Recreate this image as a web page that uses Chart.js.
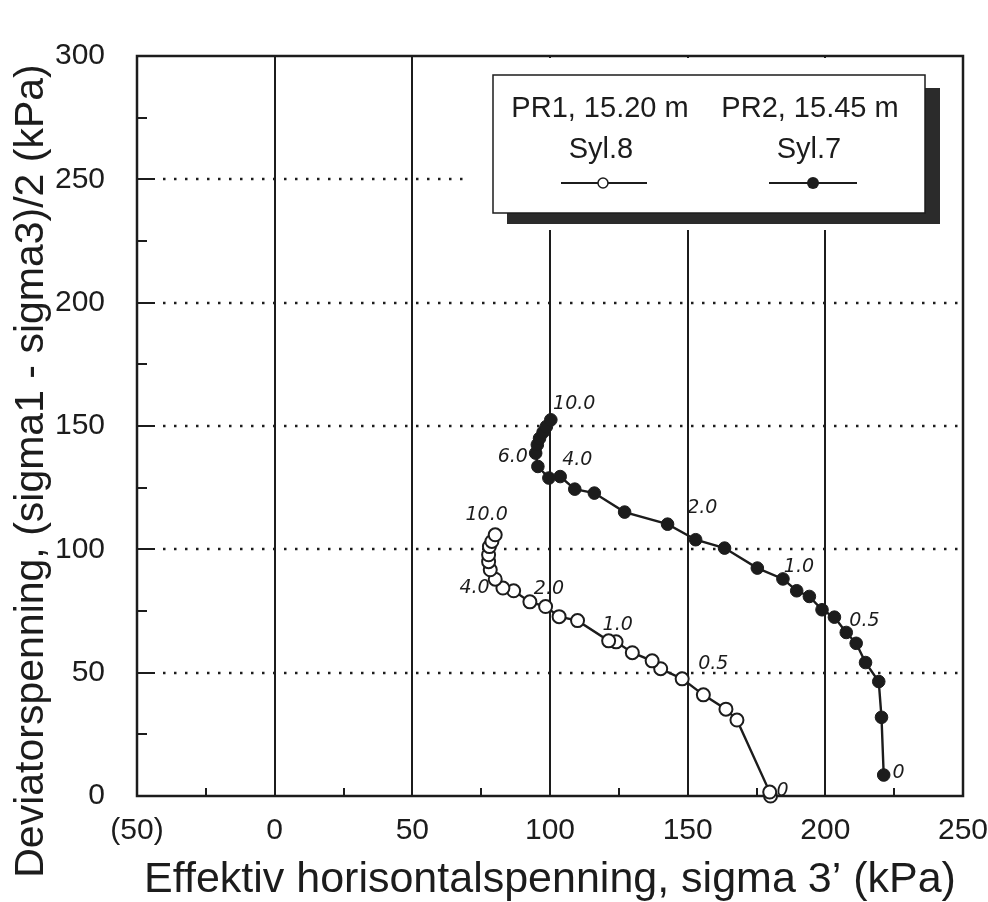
<!DOCTYPE html>
<html lang="no">
<head>
<meta charset="UTF-8">
<title>Spenningssti PR1 / PR2</title>
<script src="https://cdn.jsdelivr.net/npm/chart.js"></script>
<style>
  html, body { margin: 0; padding: 0; background: #fff; }
  #wrap { width: 988px; height: 902px; }
</style>
</head>
<body>
<div id="wrap"><canvas id="chart"></canvas></div>
<script>
// PR1, 15.20 m - Syl.8 (apne sirkler), fra start av forsoket
const syl8X = [180.1, 179.8, 167.9, 163.9, 155.7, 148.0, 140.2, 137.1, 129.9, 124.0, 121.3, 110.0,
               103.3, 98.4, 92.7, 86.8, 82.9, 80.1, 78.3, 77.7, 77.7, 78.0, 78.9, 80.1];
const syl8Y = [0.0, 1.6, 30.8, 35.2, 41.0, 47.5, 51.6, 54.8, 58.1, 62.5, 62.9, 71.1,
               72.7, 76.8, 78.7, 83.2, 84.3, 87.9, 91.7, 95.0, 97.8, 101.1, 103.2, 105.9];

// PR2, 15.45 m - Syl.7 (fylte sirkler)
const syl7X = [221.2, 220.4, 219.4, 214.6, 211.2, 207.6, 203.3, 198.8, 194.2, 189.6, 184.6, 175.3,
               163.4, 152.9, 142.7, 127.1, 116.1, 109.0, 103.7, 99.6, 95.6, 94.8, 95.4, 96.2,
               97.5, 98.7, 100.3];
const syl7Y = [8.5, 31.9, 46.4, 54.1, 61.9, 66.3, 72.5, 75.5, 80.9, 83.2, 88.0, 92.4,
               100.5, 103.9, 110.2, 115.1, 122.8, 124.4, 129.5, 128.9, 133.6, 139.0, 142.4, 145.0,
               147.5, 149.8, 152.5];

// akser
const xTicks = [-50, 0, 50, 100, 150, 200, 250];
const yTicks = [0, 50, 100, 150, 200, 250, 300];
const xMinor = [-25, 25, 75, 125, 175, 225];
const yMinor = [25, 75, 125, 175, 225, 275];
const yTitle = "Deviatorspenning, (sigma1 - sigma3)/2 (kPa)";
const xTitle = "Effektiv horisontalspenning, sigma 3\u2019 (kPa)";

// tøyning (%) skrevet langs kurvene
const syl8Notes = ["0", "0.5", "1.0", "2.0", "4.0", "10.0"];
const syl8NoteX = [184.5, 159.3, 124.6, 99.6, 72.6, 77.0];
const syl8NoteY = [2.0, 53.5, 69.3, 83.9, 84.3, 113.9];
const syl7Notes = ["0", "0.5", "1.0", "2.0", "4.0", "6.0", "10.0"];
const syl7NoteX = [226.6, 214.2, 190.4, 155.3, 109.9, 86.5, 108.8];
const syl7NoteY = [9.3, 70.9, 92.8, 116.7, 136.2, 137.4, 158.9];

const ink = "#1c1c1c";
Chart.defaults.font.family = '"Liberation Sans", Arial, sans-serif';
Chart.defaults.color = ink;

// ramme, rutenett og små merker
const framePlugin = {
  id: "frame",
  beforeDatasetsDraw(chart) {
    const { ctx, chartArea: a, scales: { x, y } } = chart;
    ctx.save();
    ctx.strokeStyle = ink;

    // loddrette linjer
    ctx.lineWidth = 2;
    xTicks.slice(1, -1).forEach(v => {
      const px = Math.round(x.getPixelForValue(v));
      ctx.beginPath();
      ctx.moveTo(px, a.top);
      ctx.lineTo(px, a.bottom);
      ctx.stroke();
    });

    // vannrette prikkede linjer
    yTicks.slice(1, -1).forEach(v => {
      const py = Math.round(y.getPixelForValue(v));
      ctx.setLineDash([]);
      ctx.lineWidth = 2;
      ctx.beginPath();
      ctx.moveTo(a.left, py);
      ctx.lineTo(a.left + 18, py);
      ctx.stroke();
      ctx.setLineDash([2.5, 8.5]);
      ctx.lineWidth = 2.5;
      ctx.beginPath();
      ctx.moveTo(a.left + 26, py);
      ctx.lineTo(a.right, py);
      ctx.stroke();
    });
    ctx.setLineDash([]);

    // små merker
    ctx.lineWidth = 2;
    yMinor.forEach(v => {
      const py = Math.round(y.getPixelForValue(v));
      ctx.beginPath();
      ctx.moveTo(a.left, py);
      ctx.lineTo(a.left + 10, py);
      ctx.stroke();
    });
    xMinor.forEach(v => {
      const px = Math.round(x.getPixelForValue(v));
      ctx.beginPath();
      ctx.moveTo(px, a.bottom);
      ctx.lineTo(px, a.bottom - 8);
      ctx.stroke();
    });

    // ramme
    ctx.lineWidth = 2.5;
    ctx.strokeRect(a.left, a.top, a.right - a.left, a.bottom - a.top);

    // y-aksetittel
    ctx.fillStyle = ink;
    ctx.font = '41px "Liberation Sans", Arial, sans-serif';
    ctx.textAlign = "center";
    ctx.textBaseline = "middle";
    ctx.translate(32, 471);
    ctx.rotate(-Math.PI / 2);
    ctx.fillText(yTitle, 0, 0);
    ctx.restore();
  },
  afterDatasetsDraw(chart) {
    const { ctx, scales: { x, y } } = chart;
    ctx.save();
    ctx.fillStyle = ink;
    ctx.font = 'italic 19px "DejaVu Sans", sans-serif';
    ctx.textAlign = "center";
    ctx.textBaseline = "middle";
    syl8Notes.forEach((t, i) => ctx.fillText(t, x.getPixelForValue(syl8NoteX[i]), y.getPixelForValue(syl8NoteY[i])));
    syl7Notes.forEach((t, i) => ctx.fillText(t, x.getPixelForValue(syl7NoteX[i]), y.getPixelForValue(syl7NoteY[i])));
    ctx.restore();
  },
  afterDraw(chart) {
    const { ctx, chartArea: a } = chart;
    ctx.save();
    // tom plass bak tegnforklaringen
    ctx.fillStyle = "#fff";
    ctx.fillRect(470, a.top + 2, a.right - 472, 230 - a.top - 2);
    // skygge
    ctx.fillStyle = "#2b2b2b";
    ctx.fillRect(507, 88, 433, 136);
    // boks
    ctx.fillStyle = "#fff";
    ctx.fillRect(493, 75, 432, 138);
    ctx.strokeStyle = ink;
    ctx.lineWidth = 1.5;
    ctx.strokeRect(493, 75, 432, 138);

    ctx.fillStyle = ink;
    ctx.font = '29px "Liberation Sans", Arial, sans-serif';
    ctx.textAlign = "center";
    ctx.textBaseline = "alphabetic";
    ctx.fillText("PR1, 15.20 m", 600, 117);
    ctx.fillText("PR2, 15.45 m", 810, 117);
    ctx.fillText("Syl.8", 601, 158);
    ctx.fillText("Syl.7", 809, 158);

    ctx.lineWidth = 2;
    ctx.beginPath();
    ctx.moveTo(561, 183); ctx.lineTo(647, 183);
    ctx.moveTo(769, 183); ctx.lineTo(857, 183);
    ctx.stroke();
    ctx.beginPath();
    ctx.arc(603, 183, 5, 0, Math.PI * 2);
    ctx.fillStyle = "#fff";
    ctx.fill();
    ctx.lineWidth = 1.5;
    ctx.stroke();
    ctx.beginPath();
    ctx.arc(813, 183, 6, 0, Math.PI * 2);
    ctx.fillStyle = ink;
    ctx.fill();
    ctx.restore();
  }
};

new Chart(document.getElementById("chart"), {
  type: "scatter",
  data: {
    datasets: [
      {
        label: "PR1, 15.20 m Syl.8",
        data: syl8X.map((v, i) => ({ x: v, y: syl8Y[i] })),
        showLine: true,
        borderColor: ink,
        borderWidth: 2.4,
        pointRadius: 6.5,
        pointBackgroundColor: "#fff",
        pointBorderColor: ink,
        pointBorderWidth: 2,
        clip: false
      },
      {
        label: "PR2, 15.45 m Syl.7",
        data: syl7X.map((v, i) => ({ x: v, y: syl7Y[i] })),
        showLine: true,
        borderColor: ink,
        borderWidth: 2.4,
        pointRadius: 6.3,
        pointBackgroundColor: ink,
        pointBorderColor: ink,
        pointBorderWidth: 1,
        clip: false
      }
    ]
  },
  options: {
    responsive: true,
    maintainAspectRatio: false,
    animation: false,
    layout: { padding: { top: 56, right: 25, left: 0, bottom: 0 } },
    plugins: { legend: { display: false }, tooltip: { enabled: false } },
    scales: {
      x: {
        type: "linear",
        min: -50,
        max: 250,
        afterBuildTicks: s => { s.ticks = xTicks.map(v => ({ value: v })); },
        afterFit: s => { s.height = 106; s.paddingLeft = 0; s.paddingRight = 0; },
        grid: { display: false },
        border: { display: false },
        ticks: {
          font: { size: 30 },
          padding: 9,
          callback: v => (v < 0 ? "(" + (-v) + ")" : String(v))
        },
        title: {
          display: true,
          text: xTitle,
          font: { size: 43, lineHeight: 1.0 },
          padding: { top: 0, bottom: 0 }
        }
      },
      y: {
        type: "linear",
        min: 0,
        max: 300,
        afterBuildTicks: s => { s.ticks = yTicks.map(v => ({ value: v })); },
        afterFit: s => { s.width = 137; },
        grid: { display: false },
        border: { display: false },
        ticks: { font: { size: 30 }, padding: 24 },
        title: { display: false }
      }
    }
  },
  plugins: [framePlugin]
});
</script>
</body>
</html>
